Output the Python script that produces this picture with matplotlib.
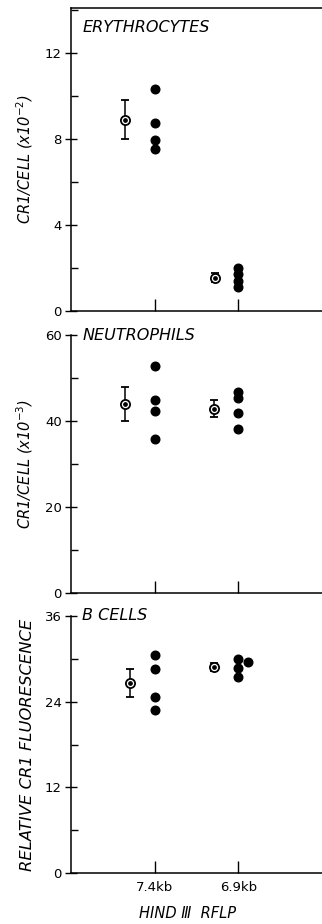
import matplotlib
matplotlib.use('Agg')
import matplotlib.pyplot as plt
from matplotlib.ticker import MultipleLocator

plt.rcParams['font.family'] = ['DejaVu Sans']

groups = ['7.4kb', '6.9kb']
group_x = [1, 2]

# erythrocytes (x10^-2)
ery_dots_74 = [10.35, 8.75, 7.95, 7.55]
ery_dots_69 = [2.0, 1.72, 1.4, 1.12]
ery_mean = [8.9, 1.55]
ery_err = [0.9, 0.2]

# neutrophils (x10^-3)
neu_dots_74 = [52.7, 44.9, 42.3, 35.9]
neu_dots_69 = [46.7, 45.3, 41.8, 38.2]
neu_mean = [44.0, 42.9]
neu_err = [3.9, 1.9]

# B cells
bc_dots_74 = [30.6, 28.6, 24.65, 22.8]
bc_dots_69 = [29.95, 28.7, 27.5]
bc_dots_69_side = [29.5]
bc_mean = [26.6, 28.85]
bc_err = [2.0, 0.5]

W, H = 322, 924
fig = plt.figure(figsize=(W / 100, H / 100), dpi=100)


def px_axes(top, bottom, left=71, right=322):
    return fig.add_axes([left / W, 1 - bottom / H, (right - left) / W, (bottom - top) / H])


def panel(ax, d74, d69, mean, err, ymax, major, minor, title, ylabel, mean_off, side=None,
          ylsize=10.5):
    ax.set_xlim(0, 3)
    ax.set_ylim(0, ymax)
    mx = [group_x[0] + mean_off[0], group_x[1] + mean_off[1]]
    ax.errorbar(mx, mean, yerr=err, fmt='o', ms=6.6, mfc='white', mec='black', mew=1.3,
                ecolor='black', elinewidth=1.1, capsize=2.6, capthick=1.1, zorder=3)
    ax.plot(mx, mean, 'o', ms=2.4, color='black', zorder=4)
    ax.plot([group_x[0]] * len(d74), d74, 'o', color='black', ms=6.2, zorder=3)
    ax.plot([group_x[1]] * len(d69), d69, 'o', color='black', ms=6.2, zorder=3)
    if side:
        ax.plot([group_x[1] + 0.11] * len(side), side, 'o', color='black', ms=6.2, zorder=3)
    ax.yaxis.set_major_locator(MultipleLocator(major))
    ax.yaxis.set_minor_locator(MultipleLocator(minor))
    ax.set_xticks(group_x)
    ax.tick_params(axis='y', which='major', direction='inout', length=9, width=1.0, labelsize=9.5, pad=2)
    ax.tick_params(axis='y', which='minor', direction='in', length=5, width=1.0)
    ax.tick_params(axis='x', which='major', direction='in', length=9, width=1.0, labelsize=9.5)
    for s in ['left', 'bottom', 'top']:
        ax.spines[s].set_linewidth(1.1)
    ax.spines['right'].set_visible(False)
    ax.set_ylabel(ylabel, fontsize=ylsize, style='italic')
    ax.yaxis.set_label_coords(-0.145, 0.5)
    ax.text(0.045, 1.0, title, transform=ax.transAxes, fontsize=11.5, style='italic',
            ha='left', va='center')


ax1 = px_axes(8, 311)
panel(ax1, ery_dots_74, ery_dots_69, ery_mean, ery_err, 14.1, 4, 2, '', r'CR1/CELL (x10$^{-2}$)',
      [-0.35, -0.28])
ax1.text(0.045, 0.934, 'ERYTHROCYTES', transform=ax1.transAxes, fontsize=11.5, style='italic',
         ha='left', va='center')
ax1.set_xticklabels([])

ax2 = px_axes(335, 593)
panel(ax2, neu_dots_74, neu_dots_69, neu_mean, neu_err, 60, 20, 10, 'NEUTROPHILS',
      r'CR1/CELL (x10$^{-3}$)', [-0.35, -0.29])
ax2.spines['top'].set_visible(False)
ax2.set_xticklabels([])

ax3 = px_axes(616, 873)
panel(ax3, bc_dots_74, bc_dots_69, bc_mean, bc_err, 36, 12, 6, 'B CELLS',
      'RELATIVE CR1 FLUORESCENCE', [-0.29, -0.29], side=bc_dots_69_side, ylsize=11.8)
ax3.spines['top'].set_visible(False)
ax3.set_xticklabels(groups)
ax3.tick_params(axis='x', pad=6)
fig.text(188 / W, 1 - 914 / H, 'HIND \u2162  RFLP', fontsize=10.5, style='italic',
         ha='center', va='center')

fig.savefig('out.png', dpi=100)
